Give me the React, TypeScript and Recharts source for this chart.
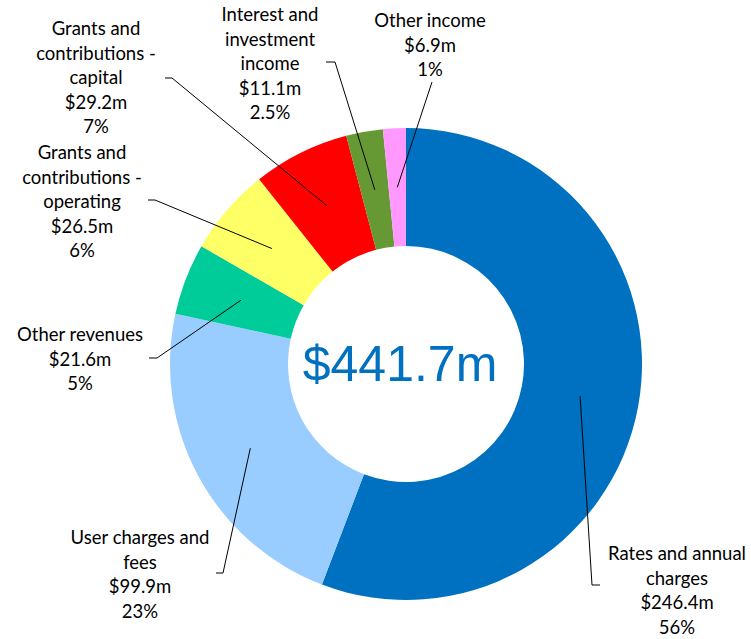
import { PieChart, Pie, Cell } from "recharts";

const categories = [
  "Rates and annual|charges",
  "User charges and|fees",
  "Other revenues",
  "Grants and|contributions -|operating",
  "Grants and|contributions -|capital",
  "Interest and|investment|income",
  "Other income",
];
const values = [246.4, 99.9, 21.6, 26.5, 29.2, 11.1, 6.9];
const percents = ["56%", "23%", "5%", "6%", "7%", "2.5%", "1%"];
const colors = ["#0070C0", "#99CCFF", "#00CC99", "#FFFF66", "#FF0000", "#669933", "#FF99FF"];
const totalLabel = "$441.7m";

// label layout: elbow of the leader line, tail end, text centre x, first text line y
const labelLayout = [
  { elbow: [592, 585], tail: [600, 585], tx: 677, ty: 553 },
  { elbow: [223, 573], tail: [216, 573], tx: 140, ty: 537 },
  { elbow: [157, 358], tail: [149, 358], tx: 80, ty: 334 },
  { elbow: [155, 200], tail: [148, 200], tx: 82, ty: 152 },
  { elbow: [172, 78], tail: [165, 78], tx: 96, ty: 28 },
  { elbow: [335, 62], tail: [326, 62], tx: 270, ty: 14 },
  { elbow: [432, 82], tail: [432, 82], tx: 430, ty: 20 },
];

const data = categories.map((name, i) => ({ name, value: values[i] }));

const RAD = Math.PI / 180;
const LINE_H = 24.6;

function renderLabel(props: any) {
  const { cx, cy, midAngle, innerRadius, outerRadius, index } = props;
  const r = (innerRadius + outerRadius) / 2;
  const sx = cx + r * Math.cos(-midAngle * RAD);
  const sy = cy + r * Math.sin(-midAngle * RAD);
  const lay = labelLayout[index];
  const lines = [...categories[index].split("|"), `$${values[index]}m`, percents[index]];
  return (
    <g key={`lbl-${index}`}>
      {index === 0 && (
        <text
          x={cx - 6}
          y={cy + 17}
          textAnchor="middle"
          fill="#0070C0"
          fontSize={50}
          fontFamily="'Liberation Sans', Arial, sans-serif"
        >
          {totalLabel}
        </text>
      )}
      <polyline
        points={`${sx},${sy} ${lay.elbow[0]},${lay.elbow[1]} ${lay.tail[0]},${lay.tail[1]}`}
        fill="none"
        stroke="#000"
        strokeWidth={1}
      />
      <text
        x={lay.tx}
        y={lay.ty}
        textAnchor="middle"
        dominantBaseline="central"
        fill="#000"
        fontSize={18.5}
        fontFamily="Lato, 'Open Sans', sans-serif"
      >
        {lines.map((ln, j) => (
          <tspan key={j} x={lay.tx} y={lay.ty + j * LINE_H}>
            {ln}
          </tspan>
        ))}
      </text>
    </g>
  );
}

export default function App() {
  return (
    <div style={{ position: "absolute", left: 0, top: 0, width: 751, height: 639, background: "#fff" }}>
      <PieChart width={751} height={639} margin={{ top: 0, right: 0, bottom: 0, left: 0 }}>
        <Pie
          data={data}
          dataKey="value"
          nameKey="name"
          cx={406}
          cy={364}
          innerRadius={118}
          outerRadius={236}
          startAngle={90}
          endAngle={-270}
          stroke="none"
          label={renderLabel}
          labelLine={false}
          isAnimationActive={false}
        >
          {data.map((d, i) => (
            <Cell key={d.name} fill={colors[i]} />
          ))}
        </Pie>
      </PieChart>
    </div>
  );
}
